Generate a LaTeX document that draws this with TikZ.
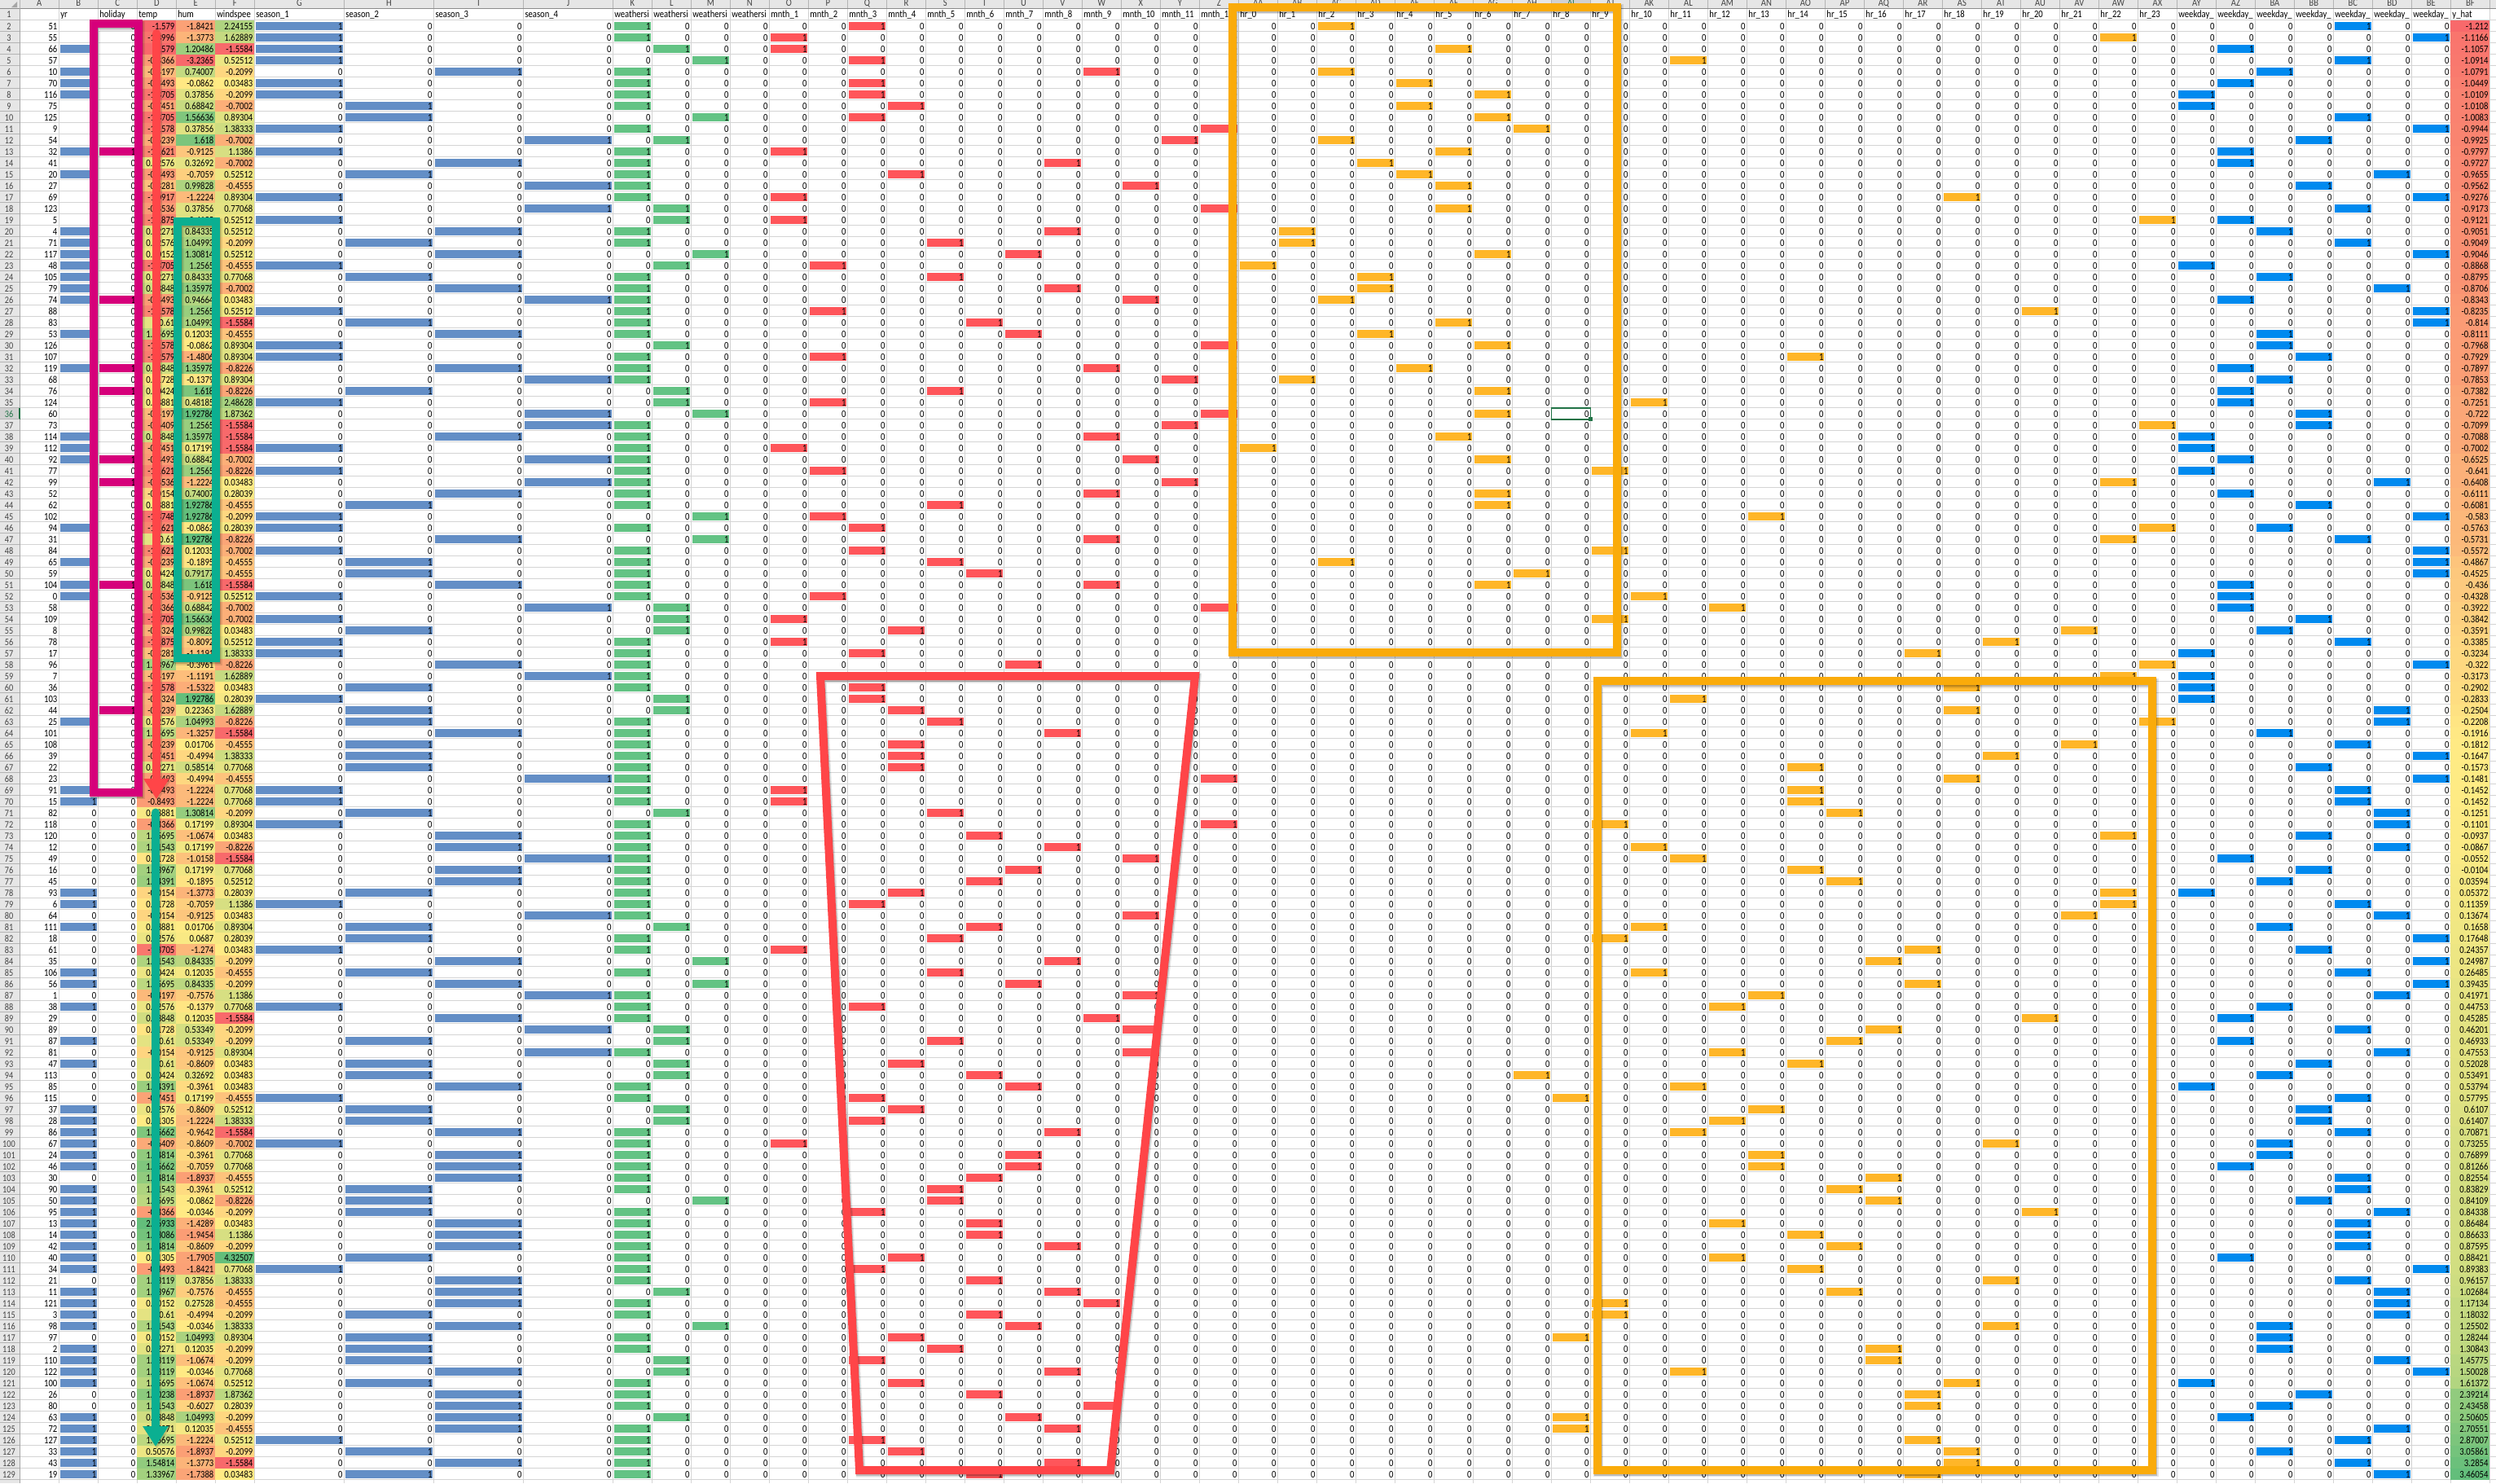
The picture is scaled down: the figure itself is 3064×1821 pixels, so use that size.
\documentclass[tikz,border=0pt]{standalone}
\usepackage{fontspec}
\usetikzlibrary{arrows.meta}
\newfontfamily\carl[FakeStretch=0.85]{Carlito}
\newcommand\cf{\carl\fontsize{12.5}{14}\selectfont}
\newcommand\cfs{\carl\fontsize{12}{14}\selectfont}
\definecolor{cgrid}{HTML}{D4D4D4}
\definecolor{chead}{HTML}{E6E6E6}
\definecolor{cheadline}{HTML}{B4B4B4}
\definecolor{cheadtxt}{HTML}{444444}
\definecolor{csel}{HTML}{217346}
\definecolor{cblue}{HTML}{638EC6}
\definecolor{cgreen}{HTML}{63C384}
\definecolor{cred}{HTML}{FF555A}
\definecolor{corange}{HTML}{FFB628}
\definecolor{clblue}{HTML}{008AEF}
\definecolor{cpurple}{HTML}{D6007B}
\definecolor{hlow}{HTML}{F8696B}
\definecolor{hmid}{HTML}{FFEB84}
\definecolor{hhigh}{HTML}{63BE7B}
\definecolor{apink}{HTML}{D6007A}
\definecolor{ared}{HTML}{FF4548}
\definecolor{agreen}{HTML}{0BAF91}
\definecolor{aorange}{HTML}{FAAB0A}
\tikzset{
  frame/.style={line width=10pt,line join=miter},
  shadeA/.style={line width=12pt,line join=miter,draw=black,opacity=.10,transform canvas={xshift=1.5pt,yshift=-2.5pt}},
  shadeB/.style={line width=10pt,line join=miter,draw=black,opacity=.18,transform canvas={xshift=1pt,yshift=-2pt}},
  arrowline/.style={line width=10pt,line cap=round,-{Triangle[width=30pt,length=25pt]}},
}
% heat cell fill: value,min,med,max,xleft,xright
\newcommand\heat[6]{%
  \pgfmathsetmacro\hval{#1}%
  \ifdim\hval pt<#3pt
    \pgfmathsetmacro\hpc{max(0,min(100,100*(#1-(#2))/((#3)-(#2))))}%
    \colorlet{hc}{hmid!\hpc!hlow}%
  \else
    \pgfmathsetmacro\hpc{max(0,min(100,100*(#1-(#3))/((#4)-(#3))))}%
    \colorlet{hc}{hhigh!\hpc!hmid}%
  \fi
  \fill[hc] (#5pt,\rt) rectangle (#6pt,\rb);%
}
% bar: xleft,xright,colour
\newcommand\barcell[3]{\fill[#3] (#1pt+1.5pt,\bt) rectangle (#2pt-1.5pt,\bb);}
% bar in binary column k
\newcommand\bbar[2]{%
  \edef\xa{\the\dimexpr753.9pt+48pt*#1\relax}%
  \edef\xb{\the\dimexpr798.9pt+48pt*#1\relax}%
  \fill[#2] (\xa,\bt) rectangle (\xb,\bb);}
% a text cell of a row
\newcommand\cb[2]{\hbox to #1pt{\hss #2\kern2pt}}
\newcommand\cbit{\cb{48}{\ifnum\kk=\ka\relax 1\else\ifnum\kk=\kb\relax 1\else\ifnum\kk=\kc\relax 1\else\ifnum\kk=\kd\relax 1\else 0\fi\fi\fi\fi}}
\begin{document}
\begin{tikzpicture}[x=1pt,y=-1pt]
\useasboundingbox (0,0) rectangle (3064,1821);
\fill[white] (0,0) rectangle (3064,1821);
% grid
\foreach \gx in {72.3,120.3,168.3,216.3,264.3,312.3,422.4,532.5,642.5,752.4}
  \draw[cgrid,line width=1pt] (\gx,10) -- (\gx,1821);
\foreach \gk in {1,...,48}
  \draw[cgrid,line width=1pt] (752.4+48*\gk,10) -- (752.4+48*\gk,1821);
\foreach \gk in {0,...,128}
  \draw[cgrid,line width=1pt] (24,24.7+14*\gk) -- (3064,24.7+14*\gk);
% column header band
\fill[chead] (0,0) rectangle (3064,10);
\fill[chead] (0,0) rectangle (24,1821);
\fill[gray!70] (21,2) -- (21,9) -- (14,9) -- cycle;
\fill[black!18] (1904.6,0) rectangle (1952.4,10);
\foreach \gx in {24,72.3,120.3,168.3,216.3,264.3,312.3,422.4,532.5,642.5,752.4}
  \draw[cheadline,line width=.8pt] (\gx,0) -- (\gx,10);
\foreach \gk in {1,...,48}
  \draw[cheadline,line width=.8pt] (752.4+48*\gk,0) -- (752.4+48*\gk,10);
\draw[black!45,line width=1pt] (0,10) -- (3064,10);
\draw[black!35,line width=1pt] (24,10) -- (24,1821);
% column headers: fixed columns
\foreach \lt/\lft/\rgt/\nm in {A/24/72.3/,B/72.3/120.3/yr,C/120.3/168.3/holiday,D/168.3/216.3/temp,E/216.3/264.3/hum,F/264.3/312.3/windspee,G/312.3/422.4/season\_1,H/422.4/532.5/season\_2,I/532.5/642.5/season\_3,J/642.5/752.4/season\_4}{
  \pgfmathsetlengthmacro\cxm{(\lft+\rgt)/2}
  \pgftext[base,at=\pgfqpoint{\cxm}{-7pt}]{\color{cheadtxt}\cf \lt}
  \pgftext[left,base,at=\pgfqpoint{\dimexpr\lft pt+2pt\relax}{-21.5pt}]{\cf \nm}
}
\foreach \lt/\nm [count=\kk from 0] in {K/weathersi,L/weathersi,M/weathersi,N/weathersi,O/mnth\_1,P/mnth\_2,Q/mnth\_3,R/mnth\_4,S/mnth\_5,T/mnth\_6,U/mnth\_7,V/mnth\_8,W/mnth\_9,X/mnth\_10,Y/mnth\_11,Z/mnth\_12,AA/hr\_0,AB/hr\_1,AC/hr\_2,AD/hr\_3,AE/hr\_4,AF/hr\_5,AG/hr\_6,AH/hr\_7,AI/hr\_8,AJ/hr\_9,AK/hr\_10,AL/hr\_11,AM/hr\_12,AN/hr\_13,AO/hr\_14,AP/hr\_15,AQ/hr\_16,AR/hr\_17,AS/hr\_18,AT/hr\_19,AU/hr\_20,AV/hr\_21,AW/hr\_22,AX/hr\_23,AY/weekday\_,AZ/weekday\_,BA/weekday\_,BB/weekday\_,BC/weekday\_,BD/weekday\_,BE/weekday\_,BF/y\_hat}{
  \edef\cll{\the\dimexpr752.4pt+48pt*\kk\relax}
  \pgftext[base,at=\pgfqpoint{\dimexpr\cll+24pt\relax}{-7pt}]{\ifnum\kk=24 \color{csel}\else\color{cheadtxt}\fi\cf \lt}
  \pgftext[left,base,at=\pgfqpoint{\dimexpr\cll+2pt\relax}{-21.5pt}]{\cf \nm}
}
\pgftext[base,at=\pgfqpoint{11pt}{-21.5pt}]{\color{cheadtxt}\cfs 1}
\draw[cheadline,line width=.8pt] (0,24.7) -- (24,24.7);
% data rows
\foreach \vid/\vyr/\vho/\vte/\vhu/\vwi/\vse/\vwe/\vmo/\vhr/\vwk/\vyh [count=\ri from 2] in {
51/0/0/-1.579/-1.8421/2.24155/1/1/3/2/4/-1.212,
55/0/0/-1.3996/-1.3773/1.62889/1/1/1/22/6/-1.1166,
66/1/0/-1.579/1.20486/-1.5584/1/2/1/5/1/-1.1057,
57/0/0/-0.8366/-3.2365/0.52512/1/3/3/11/4/-1.0914,
10/1/0/-0.4197/0.74007/-0.2099/3/1/9/2/2/-1.0791,
70/1/0/-0.8493/-0.0862/0.03483/1/1/3/4/1/-1.0449,
116/1/0/-1.3705/0.37856/-0.2099/1/1/3/6/0/-1.0109,
75/0/0/-0.7451/0.68842/-0.7002/2/1/4/4/0/-1.0108,
125/0/0/-1.3705/1.56636/0.89304/2/3/3/6/4/-1.0083,
9/0/0/-1.1578/0.37856/1.38333/1/1/12/7/6/-0.9944,
54/0/0/-0.6239/1.618/-0.7002/4/2/11/2/3/-0.9925,
32/1/1/-1.1621/-0.9125/1.1386/1/1/1/5/1/-0.9797,
41/0/0/0.52576/0.32692/-0.7002/3/1/8/3/1/-0.9727,
20/1/0/-0.8493/-0.7059/0.52512/2/1/4/4/5/-0.9655,
27/0/0/-0.3281/0.99828/-0.4555/4/1/10/5/3/-0.9562,
69/0/0/-1.0917/-1.2224/0.89304/1/1/1/18/6/-0.9276,
123/0/0/-0.8536/0.37856/0.77068/4/2/12/5/4/-0.9173,
5/0/0/-1.1875/0.4135/0.52512/1/2/1/23/1/-0.9121,
4/1/0/0.62271/0.84335/0.52512/3/1/8/1/2/-0.9051,
71/1/0/0.52576/1.04993/-0.2099/2/1/5/1/4/-0.9049,
117/1/0/0.40152/1.30814/0.52512/3/3/7/6/6/-0.9046,
48/1/0/-1.3705/1.2565/-0.4555/1/2/2/0/0/-0.8868,
105/1/0/0.62271/0.84335/0.77068/2/1/5/3/2/-0.8795,
79/1/0/0.83848/1.35978/-0.7002/3/1/8/3/5/-0.8706,
74/1/1/-0.8493/0.94664/0.03483/4/1/10/2/1/-0.8343,
88/0/0/-1.1578/1.2565/0.52512/1/1/2/20/6/-0.8235,
83/0/0/0.61/1.04993/-1.5584/2/1/6/5/6/-0.814,
53/1/0/1.05695/0.12035/-0.4555/3/1/7/3/2/-0.8111,
126/0/0/-1.1578/-0.0862/0.89304/1/2/12/6/2/-0.7968,
107/0/0/-1.2579/-1.4806/0.89304/1/1/2/14/3/-0.7929,
119/1/1/0.83848/1.35978/-0.8226/3/1/9/4/1/-0.7897,
68/0/0/0.21728/-0.1379/0.89304/4/1/11/1/2/-0.7853,
76/0/1/0.50424/1.618/-0.8226/2/2/5/6/1/-0.7382,
124/0/0/0.38881/0.48185/2.48628/1/2/2/10/1/-0.7251,
60/0/0/-0.4197/1.92786/1.87362/4/3/12/6/3/-0.722,
73/0/0/-0.6409/1.2565/-1.5584/4/1/11/23/3/-0.7099,
114/1/0/0.83848/1.35978/-1.5584/3/1/9/5/0/-0.7088,
112/1/0/-0.7451/0.17199/-1.5584/1/1/1/0/0/-0.7002,
92/1/1/-0.8493/0.68842/-0.7002/4/1/10/6/1/-0.6525,
77/0/0/-1.1621/1.2565/-0.8226/1/1/2/9/0/-0.641,
99/0/1/-0.8536/-1.2224/0.03483/4/1/11/22/5/-0.6408,
52/0/0/-0.0154/0.74007/0.28039/3/1/9/6/1/-0.6111,
62/0/0/0.38881/1.92786/-0.4555/2/1/5/6/3/-0.6081,
102/0/0/-1.3748/1.92786/-0.2099/1/3/2/13/6/-0.583,
94/1/0/-1.1621/-0.0862/0.28039/1/1/3/23/2/-0.5763,
31/0/0/0.61/1.92786/-0.8226/3/3/9/22/4/-0.5731,
84/0/0/-1.1621/0.12035/-0.7002/1/1/3/9/6/-0.5572,
65/1/0/-0.6239/-0.1895/-0.4555/2/1/5/2/6/-0.4867,
59/0/0/0.50424/0.79177/-0.4555/2/1/6/7/6/-0.4525,
104/1/1/0.83848/1.618/-1.5584/3/1/9/6/1/-0.436,
0/1/0/-0.8536/-0.9125/0.52512/1/1/2/10/1/-0.4328,
58/0/0/-0.8366/0.68842/-0.7002/4/2/12/12/1/-0.3922,
109/0/0/-1.3705/1.56636/-0.7002/1/2/1/9/3/-0.3842,
8/0/0/-0.5324/0.99828/0.03483/2/2/4/21/2/-0.3591,
78/0/0/-1.1875/-0.8092/0.52512/1/1/1/19/4/-0.3385,
17/0/0/-0.3281/-1.1191/1.38333/1/1/3/17/0/-0.3234,
96/0/0/1.33967/-0.3961/-0.8226/3/1/7/23/6/-0.322,
7/0/0/-0.4197/-1.1191/1.62889/4/1/11/22/0/-0.3173,
36/0/0/-1.1578/-1.5322/0.03483/2/1/3/18/0/-0.2902,
103/0/0/-0.5324/1.92786/0.28039/1/2/3/11/0/-0.2833,
44/0/1/-0.6239/0.22363/1.62889/2/2/4/18/5/-0.2504,
25/1/0/0.52576/1.04993/-0.8226/2/1/5/23/5/-0.2208,
101/0/0/1.05695/-1.3257/-1.5584/3/1/8/10/2/-0.1916,
108/0/0/-0.6239/0.01706/-0.4555/2/1/4/21/4/-0.1812,
39/0/0/-0.7451/-0.4994/1.38333/2/1/4/19/6/-0.1647,
22/0/0/0.62271/0.58514/0.77068/2/1/4/14/3/-0.1573,
23/0/0/-0.8493/-0.4994/-0.4555/4/1/12/18/6/-0.1481,
91/1/0/-0.8493/-1.2224/0.77068/1/1/1/14/4/-0.1452,
15/1/0/-0.8493/-1.2224/0.77068/1/1/1/14/4/-0.1452,
82/0/0/0.38881/1.30814/-0.2099/2/2/5/15/5/-0.1251,
118/0/0/-0.8366/0.17199/0.89304/1/1/12/9/5/-0.1101,
120/0/0/1.05695/-1.0674/0.03483/3/1/6/22/3/-0.0937,
12/0/0/1.21543/0.17199/-0.8226/3/1/8/10/5/-0.0867,
49/0/0/0.21728/-1.0158/-1.5584/4/1/10/11/1/-0.0552,
16/0/0/1.33967/0.17199/0.77068/3/1/7/14/3/-0.0104,
45/0/0/1.44391/-0.1895/0.52512/3/1/6/15/2/0.03594,
93/1/0/-0.0154/-1.3773/0.28039/2/1/4/22/0/0.05372,
6/1/0/0.21728/-0.7059/1.1386/1/1/3/22/4/0.11359,
64/0/0/-0.0154/-0.9125/0.03483/4/1/10/21/5/0.13674,
111/1/0/0.38881/0.01706/0.89304/2/2/6/10/2/0.1658,
18/0/0/0.52576/0.0687/0.28039/2/1/5/9/6/0.17648,
61/0/0/-1.3705/-1.274/0.03483/1/1/1/17/3/0.24357,
35/0/0/1.21543/0.84335/-0.2099/3/3/8/16/6/0.24987,
106/1/0/0.50424/0.12035/-0.4555/2/1/5/10/4/0.26485,
56/1/0/1.05695/0.84335/-0.2099/3/3/7/17/6/0.39435,
1/0/0/-0.4197/-0.7576/1.1386/4/1/10/13/5/0.41971,
38/1/0/0.52576/-0.1379/0.77068/1/1/3/12/2/0.44753,
29/0/0/0.83848/0.12035/-1.5584/3/1/9/20/1/0.45285,
89/0/0/0.21728/0.53349/-0.2099/4/2/10/16/4/0.46201,
87/1/0/0.61/0.53349/-0.2099/2/2/5/15/1/0.46933,
81/0/0/-0.0154/-0.9125/0.89304/4/1/10/12/5/0.47553,
47/1/0/0.61/-0.8609/0.03483/2/2/4/14/3/0.52028,
113/0/0/0.50424/0.32692/0.03483/2/2/6/7/2/0.53491,
85/0/0/1.44391/-0.3961/0.03483/3/1/7/11/0/0.53794,
115/0/0/-0.7451/0.17199/-0.4555/1/1/3/8/4/0.57795,
37/1/0/0.52576/-0.8609/0.52512/2/2/4/13/3/0.6107,
28/1/0/0.31305/-1.2224/1.38333/2/2/3/12/3/0.61407,
86/1/0/1.75662/-0.9642/-1.5584/3/1/8/11/4/0.70871,
67/1/0/-0.6409/-0.8609/-0.7002/1/1/1/19/2/0.73255,
24/1/0/1.54814/-0.3961/0.77068/3/1/7/13/2/0.76899,
46/1/0/1.75662/-0.7059/0.77068/3/1/7/13/1/0.81266,
30/0/0/1.54814/-1.8937/-0.4555/3/1/6/16/4/0.82554,
90/1/0/1.21543/-0.3961/0.52512/2/1/5/15/4/0.83829,
50/1/0/1.05695/-0.0862/-0.8226/2/3/5/16/3/0.84109,
95/1/0/-0.8366/-0.0346/-0.2099/2/1/3/20/5/0.84338,
13/1/0/2.06933/-1.4289/0.03483/3/1/6/12/4/0.86484,
14/1/0/1.88086/-1.9454/1.1386/3/1/6/14/4/0.86633,
42/1/0/1.54814/-0.8609/-0.2099/3/1/8/15/4/0.87595,
40/1/0/0.31305/-1.7905/4.32507/2/1/4/12/1/0.88421,
34/1/0/-0.8493/-1.8421/0.77068/1/1/3/14/6/0.89383,
21/0/0/1.33119/0.37856/1.38333/3/1/6/19/4/0.96157,
11/1/0/1.33967/-0.7576/-0.4555/3/2/8/15/5/1.02684,
121/1/0/0.40152/0.27528/-0.4555/3/1/9/9/5/1.17134,
3/1/0/0.61/-0.4994/-0.2099/2/1/6/9/5/1.18032,
98/1/0/1.21543/-0.0346/1.38333/3/3/7/19/2/1.25502,
97/0/0/0.40152/1.04993/0.89304/2/1/4/8/2/1.28244,
2/1/0/0.62271/0.12035/-0.2099/2/1/5/16/2/1.30843,
110/1/0/1.33119/-1.0674/-0.2099/2/2/3/16/5/1.45775,
122/1/0/1.33119/-0.0346/0.77068/3/2/8/11/6/1.50028,
100/1/0/1.05695/-1.0674/0.52512/2/1/4/18/0/1.61372,
26/0/0/1.60238/-1.8937/1.87362/3/1/6/17/3/2.39214,
80/0/0/1.21543/-0.6027/0.28039/3/1/9/17/2/2.43458,
63/1/0/0.83848/1.04993/-0.2099/3/2/7/8/1/2.50605,
72/1/0/0.62271/0.12035/-0.4555/3/1/8/8/5/2.70551,
127/1/0/1.05695/-1.2224/0.52512/1/1/3/17/4/2.87007,
33/1/0/0.50576/-1.8937/-0.2099/2/1/4/18/2/3.05861,
43/1/0/1.54814/-1.3773/-1.5584/3/1/8/18/4/3.2854,
19/1/0/1.33967/-1.7388/0.03483/2/1/6/17/5/3.46054}{
  \edef\rt{\the\dimexpr-24.7pt-14pt*(\ri-2)\relax}
  \edef\rb{\the\dimexpr-38.7pt-14pt*(\ri-2)\relax}
  \edef\bt{\the\dimexpr-26.8pt-14pt*(\ri-2)\relax}
  \edef\bb{\the\dimexpr-36.6pt-14pt*(\ri-2)\relax}
  \edef\ybase{\the\dimexpr-36.3pt-14pt*(\ri-2)\relax}
  % row number
  \ifnum\ri=36
    \fill[black!18] (0pt,\rt) rectangle (24pt,\rb);
    \fill[csel] (23pt,\rt) rectangle (25pt,\rb);
    \pgftext[base,at=\pgfqpoint{11pt}{\ybase}]{\color{csel}\cfs \ri}
  \else
    \pgftext[base,at=\pgfqpoint{11pt}{\ybase}]{\color{cheadtxt}\cfs \ri}
  \fi
  \draw[cheadline,line width=.8pt] (0pt,\rb) -- (24pt,\rb);
  % fills
  \ifnum\vyr=1 \barcell{72.3}{120.3}{cblue}\fi
  \ifnum\vho=1 \barcell{120.3}{168.3}{cpurple}\fi
  \heat{\vte}{-1.579}{0.3}{2.07}{168.3}{216.3}
  \heat{\vhu}{-3.2365}{0.0}{1.92786}{216.3}{264.3}
  \heat{\vwi}{-1.5584}{0.03483}{4.32507}{264.3}{312.3}
  \ifnum\vse=1 \barcell{312.3}{422.4}{cblue}\fi
  \ifnum\vse=2 \barcell{422.4}{532.5}{cblue}\fi
  \ifnum\vse=3 \barcell{532.5}{642.5}{cblue}\fi
  \ifnum\vse=4 \barcell{642.5}{752.4}{cblue}\fi
  \edef\ka{\the\numexpr\vwe-1\relax}
  \edef\kb{\the\numexpr3+\vmo\relax}
  \edef\kc{\the\numexpr16+\vhr\relax}
  \edef\kd{\the\numexpr40+\vwk\relax}
  \bbar{\ka}{cgreen}
  \bbar{\kb}{cred}
  \bbar{\kc}{corange}
  \bbar{\kd}{clblue}
  \heat{\vyh}{-1.212}{-0.17}{3.46054}{3008.4}{3056.4}
  % the texts of the row, as one line
  \pgftext[left,base,at=\pgfqpoint{24pt}{\ybase}]{\cf
    \cb{48.3}{\vid}%
    \cb{48}{\ifnum\vyr=1 1\else 0\fi}%
    \cb{48}{\ifnum\vho=1 1\else 0\fi}%
    \cb{48}{\vte}%
    \cb{48}{\vhu}%
    \cb{48}{\vwi}%
    \cb{110.1}{\ifnum\vse=1 1\else 0\fi}%
    \cb{110.1}{\ifnum\vse=2 1\else 0\fi}%
    \cb{110}{\ifnum\vse=3 1\else 0\fi}%
    \cb{109.9}{\ifnum\vse=4 1\else 0\fi}%
    \foreach \kk in {0,...,46}{\cbit}%
    \cb{48}{\vyh}}
}
% selected cell
\draw[csel,line width=1.6pt] (1904.6,500.7) rectangle (1952.4,514.7);
\fill[csel] (1950,512.4) rectangle (1954.6,517);
% shadows and frames
\coordinate (pa) at (115,29);   \coordinate (pb) at (170,972.5);
\coordinate (ga) at (218,271.7); \coordinate (gb) at (265,808);
\coordinate (oa) at (1513,8.7);  \coordinate (ob) at (1985,800.5);
\coordinate (qa) at (1960.5,836); \coordinate (qb) at (2642,1804.5);
\coordinate (t1) at (1007,830); \coordinate (t2) at (1467,830);
\coordinate (t3) at (1363,1805); \coordinate (t4) at (1055,1805);
\coordinate (redS) at (192,41); \coordinate (redE) at (192,981);
\coordinate (grnS) at (191,997.5); \coordinate (grnE) at (191,1776);
\foreach \sty in {shadeA,shadeB}{
  \draw[\sty] (pa) rectangle (pb);
  \draw[\sty] (ga) rectangle (gb);
  \draw[\sty] (oa) rectangle (ob);
  \draw[\sty] (qa) rectangle (qb);
  \draw[\sty] (t1) -- (t2) -- (t3) -- (t4) -- cycle;
}
\draw[frame,apink] (pa) rectangle (pb);
\draw[frame,agreen] (ga) rectangle (gb);
\draw[frame,aorange] (oa) rectangle (ob);
\draw[frame,aorange] (qa) rectangle (qb);
\draw[frame,ared] (t1) -- (t2) -- (t3) -- (t4) -- cycle;
\draw[arrowline,black,opacity=.15,transform canvas={xshift=1.5pt,yshift=-2.5pt}] (redS) -- (redE);
\draw[arrowline,black,opacity=.15,transform canvas={xshift=1.5pt,yshift=-2.5pt}] (grnS) -- (grnE);
\draw[arrowline,ared] (redS) -- (redE);
\draw[arrowline,agreen] (grnS) -- (grnE);
\end{tikzpicture}
\end{document}
